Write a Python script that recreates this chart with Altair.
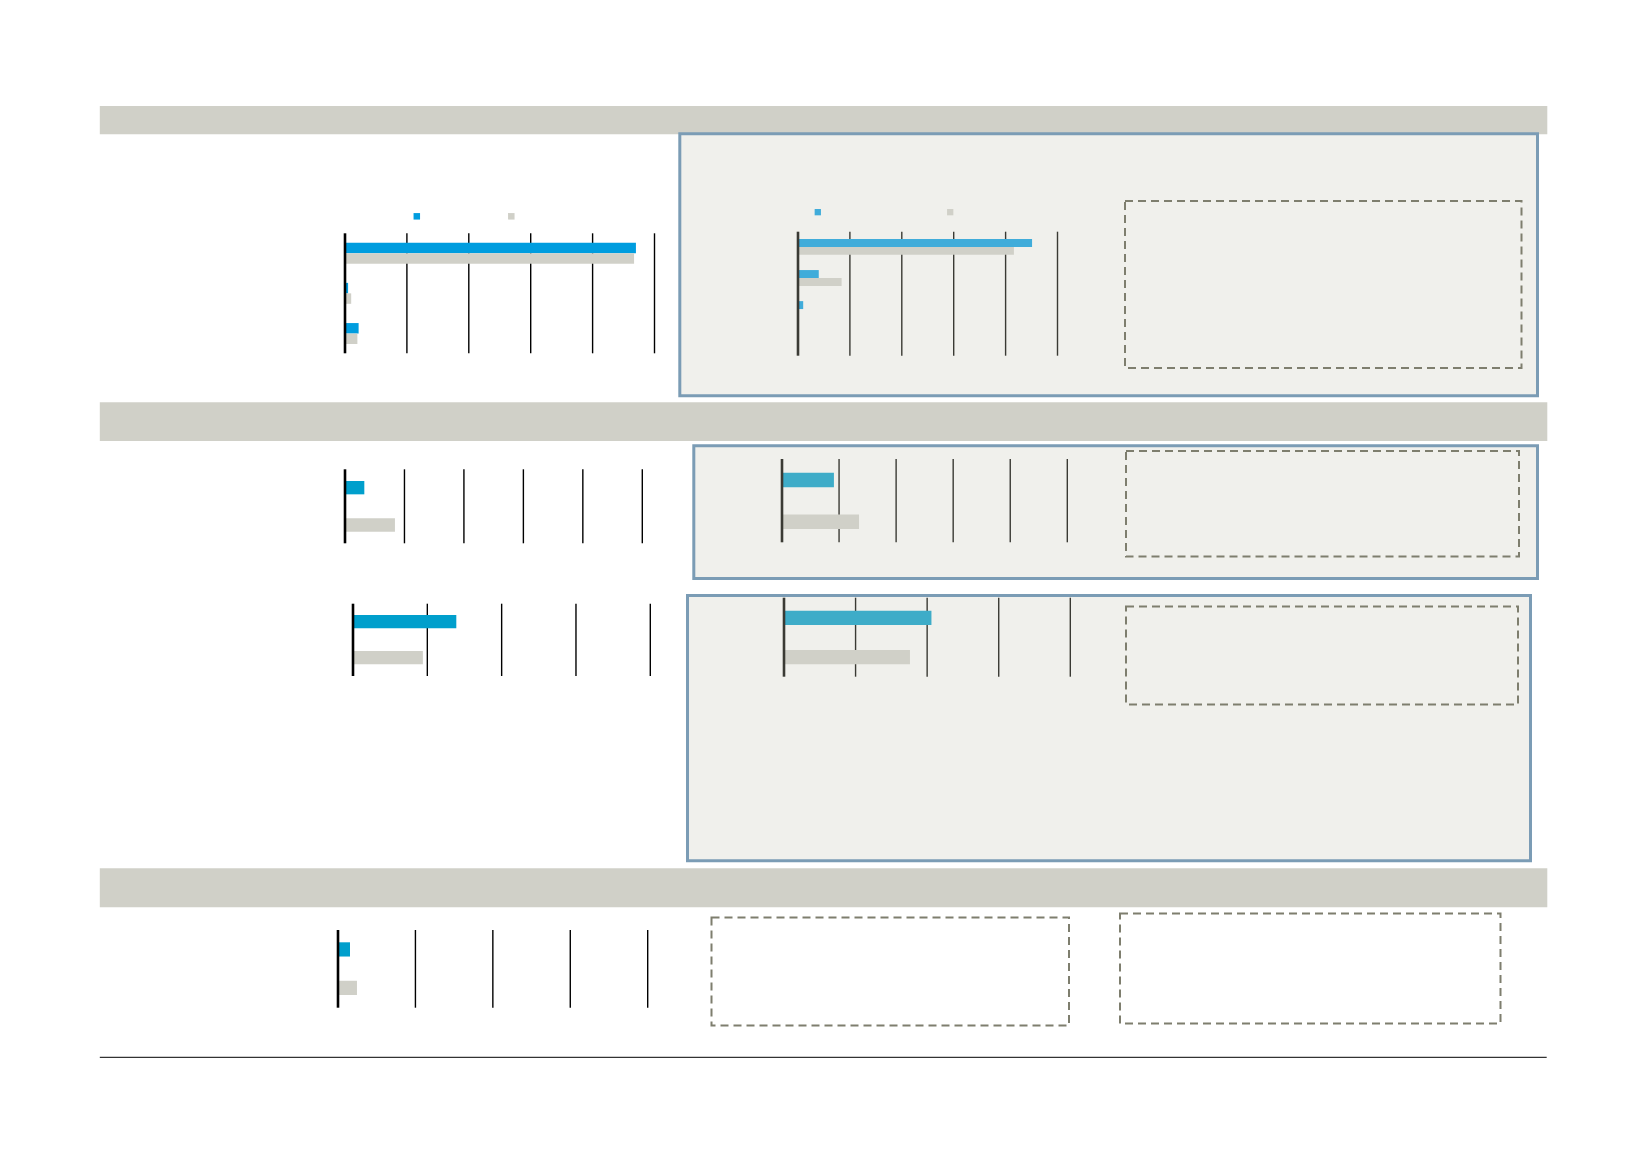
import altair as alt
import pandas as pd

# ---------------- data ----------------
SERIES = ["current", "previous"]
A1_GROUPS = ["g1", "g2", "g3"]
A1_BLUE = [4.70, 0.05, 0.22]
A1_GREY = [4.67, 0.10, 0.20]
B1_GROUPS = ["g1", "g2", "g3"]
B1_BLUE = [4.51, 0.40, 0.10]
B1_GREY = [4.16, 0.84, 0.0]
A2_VALS = [0.325, 0.84]
B2_VALS = [0.91, 1.35]
A3_VALS = [1.39, 0.94]
B3_VALS = [2.06, 1.76]
C1_VALS = [0.155, 0.245]
TICKS_5 = [0, 1, 2, 3, 4, 5]
TICKS_4 = [0, 1, 2, 3, 4]

# ---------------- layout / style ----------------
M = 8
W, H = 1631, 1148
GREY = "#d0d0c8"
BOXFILL = "#f0f0ec"
BOXSTROKE = "#7b9cb5"
DASH = "#7e7e6e"


def c(v):
    return v - M


px_x = alt.Scale(domain=[0, W], range=[0, W], nice=False, zero=False)
px_y = alt.Scale(domain=[0, H], range=[0, H], nice=False, zero=False)


def rect_layer(rows, **mark):
    df = pd.DataFrame(rows, columns=["x", "x2", "y", "y2"])
    df = df.apply(lambda s: s - M)
    return alt.Chart(df).mark_rect(**mark).encode(
        x=alt.X("x:Q", scale=px_x, axis=None),
        x2="x2:Q",
        y=alt.Y("y:Q", scale=px_y, axis=None),
        y2="y2:Q",
    )


bands = rect_layer(
    [[99.8, 1547.3, 106, 134.3], [99.8, 1547.3, 402.3, 441], [99.8, 1547.3, 868.3, 907.3]],
    fill=GREY,
)
boxes = rect_layer(
    [[679.8, 1537.5, 133.8, 395.8], [693.8, 1537.5, 445.8, 578.5], [687.5, 1530.5, 595.5, 860.8]],
    fill=BOXFILL, stroke=BOXSTROKE, strokeWidth=3,
)
dashed = rect_layer(
    [[1125, 1521.5, 201, 368], [1126, 1519, 451, 556.5], [1126, 1518, 606.5, 704.5],
     [711.5, 1069, 917.5, 1025.5], [1120, 1500.5, 913.5, 1023.5]],
    stroke=DASH, strokeWidth=2, strokeDash=[8, 5], filled=False,
)
bottom_line = alt.Chart(pd.DataFrame({"x": [c(99.8)], "x2": [c(1546.7)], "y": [c(1057.3)]})).mark_rule(
    color="#000", strokeWidth=1
).encode(
    x=alt.X("x:Q", scale=px_x, axis=None), x2="x2:Q", y=alt.Y("y:Q", scale=px_y, axis=None)
)


def grid_layers(ticks, x0, x1, gy0, gy1, color, base_w):
    xs = alt.Scale(domain=[0, ticks[-1]], range=[c(x0), c(x1)], nice=False, zero=True)
    df = pd.DataFrame({"v": ticks})
    grid = alt.Chart(df).transform_filter("datum.v > 0").mark_rule(color=color, strokeWidth=1.4).encode(
        x=alt.X("v:Q", scale=xs, axis=None), y=alt.value(c(gy0)), y2=alt.value(c(gy1))
    )
    base = alt.Chart(df).transform_filter("datum.v == 0").mark_rule(color=color, strokeWidth=base_w).encode(
        x=alt.X("v:Q", scale=xs, axis=None), y=alt.value(c(gy0)), y2=alt.value(c(gy1))
    )
    return grid, base, xs


def grouped_panel(groups, blue, grey, ticks, x0, x1, gy0, gy1, by0, by1, pin,
                  blue_color, grid_color, legend):
    grid, base, xs = grid_layers(ticks, x0, x1, gy0, gy1, grid_color, 2.6)
    rows = []
    for g, b, r in zip(groups, blue, grey):
        rows.append({"group": g, "series": SERIES[0], "value": b})
        rows.append({"group": g, "series": SERIES[1], "value": r})
    df = pd.DataFrame(rows)
    bars = alt.Chart(df).mark_bar().encode(
        x=alt.X("value:Q", scale=xs, axis=None),
        y=alt.Y("group:N", scale=alt.Scale(domain=groups, range=[c(by0), c(by1)],
                                            paddingInner=pin, paddingOuter=0), axis=None),
        yOffset=alt.YOffset("series:N", scale=alt.Scale(domain=SERIES, paddingInner=0, paddingOuter=0)),
        color=alt.Color("series:N", scale=alt.Scale(domain=SERIES, range=[blue_color, GREY]),
                        legend=legend),
    )
    return [grid, bars, base]


def pair_panel(vals, ticks, x0, x1, gy0, gy1, by0, by1, pin, blue_color, grid_color):
    grid, base, xs = grid_layers(ticks, x0, x1, gy0, gy1, grid_color, 2.6)
    df = pd.DataFrame({"series": SERIES, "value": vals})
    bars = alt.Chart(df).mark_bar().encode(
        x=alt.X("value:Q", scale=xs, axis=None),
        y=alt.Y("series:N", scale=alt.Scale(domain=SERIES, range=[c(by0), c(by1)],
                                             paddingInner=pin, paddingOuter=0), axis=None),
        color=alt.Color("series:N", scale=alt.Scale(domain=SERIES, range=[blue_color, GREY]),
                        legend=None),
    )
    return [grid, bars, base]


def leg(lx, ly, spacing, size):
    return alt.Legend(
        orient="none", legendX=c(lx), legendY=c(ly), direction="horizontal", title=None,
        labelExpr="''", labelFontSize=1, labelOffset=0, symbolType="square",
        symbolSize=size * size, symbolStrokeWidth=0, columnPadding=spacing - size, padding=0,
    )


layers = [bands, boxes, dashed, bottom_line]
layers += grouped_panel(A1_GROUPS, A1_BLUE, A1_GREY, TICKS_5, 345, 654.5, 233.3, 353.3,
                        242.7, 344.0, 0.479, "#009ddf", "#000000", leg(413.3, 212.7, 94, 6.5))
layers += grouped_panel(B1_GROUPS, B1_BLUE, B1_GREY, TICKS_5, 798, 1057.5, 231.7, 355.7,
                        239.0, 317.0, 0.489, "#40acda", "#3a3a34", leg(814.3, 208.5, 131.7, 6.3))
layers += pair_panel(A2_VALS, TICKS_5, 345, 642.3, 469.3, 543.3, 481, 531.7, 0.643, "#009fcc", "#000000")
layers += pair_panel(B2_VALS, TICKS_5, 782, 1067.3, 459, 542.3, 472.7, 529, 0.65, "#3eacc8", "#3a3a34")
layers += pair_panel(A3_VALS, TICKS_4, 353, 650.3, 603.7, 676, 615, 664.3, 0.63, "#009fcc", "#000000")
layers += pair_panel(B3_VALS, TICKS_4, 784, 1070.3, 597.7, 676.7, 610.7, 664.3, 0.64, "#3eacc8", "#3a3a34")
layers += pair_panel(C1_VALS, TICKS_4, 338, 647.7, 930, 1007.7, 942.3, 995, 0.63, "#009fcc", "#000000")

chart = alt.layer(*layers).resolve_scale(
    x="independent", y="independent", color="independent", yOffset="independent"
).properties(
    width=W, height=H, padding=0, autosize=alt.AutoSizeParams(type="none")
).configure_view(stroke=None)

chart.save("out.html", embed_options={"renderer": "svg", "actions": False})
